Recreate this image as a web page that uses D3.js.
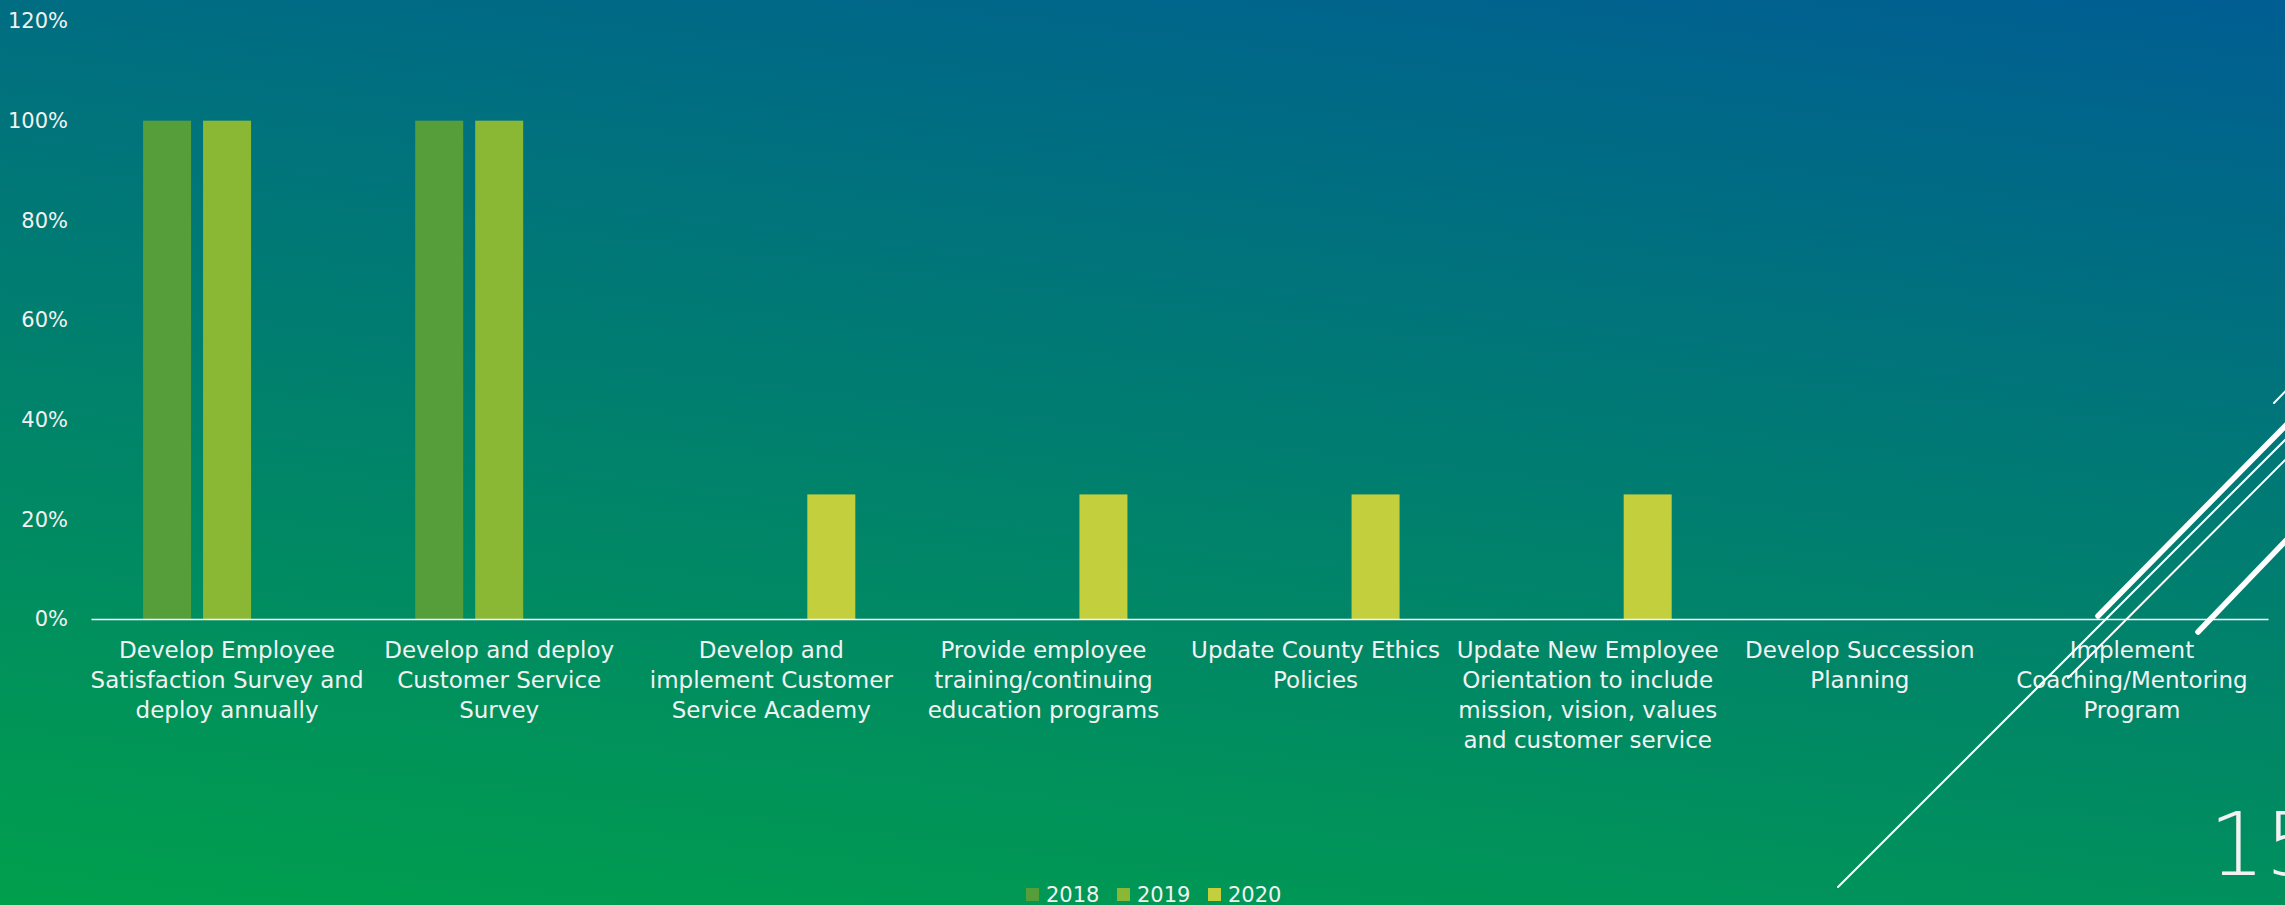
<!DOCTYPE html>
<html>
<head>
<meta charset="utf-8">
<script src="https://cdn.jsdelivr.net/npm/d3@7"></script>
<style>
  html, body { margin: 0; padding: 0; background: #00805f; }
  svg { display: block; }
  text { font-family: "DejaVu Sans", sans-serif; fill: #f2f2f2; }
</style>
</head>
<body>
<script>
// Project categories (line breaks as set on the slide)
const categories = [
  "Develop Employee\nSatisfaction Survey and\ndeploy annually",
  "Develop and deploy\nCustomer Service\nSurvey",
  "Develop and\nimplement Customer\nService Academy",
  "Provide employee\ntraining/continuing\neducation programs",
  "Update County Ethics\nPolicies",
  "Update New Employee\nOrientation to include\nmission, vision, values\nand customer service",
  "Develop Succession\nPlanning",
  "Implement\nCoaching/Mentoring\nProgram"
];

// Completion share per year
const seriesNames = ["2018", "2019", "2020"];
const values2018 = [1, 1, 0, 0, 0, 0, 0, 0];
const values2019 = [1, 1, 0, 0, 0, 0, 0, 0];
const values2020 = [0, 0, 0.25, 0.25, 0.25, 0.25, 0, 0];
const seriesValues = [values2018, values2019, values2020];
const seriesColors = ["#559e3a", "#8ab834", "#c3cf3c"];

const yTicks = [0, 0.2, 0.4, 0.6, 0.8, 1.0, 1.2];
const pageNumber = "15";

const W = 2285, H = 905;
const svg = d3.select("body").append("svg").attr("width", W).attr("height", H);

// Slide background
const defs = svg.append("defs");
const grad = defs.append("linearGradient")
  .attr("id", "bg").attr("gradientUnits", "userSpaceOnUse")
  .attr("x1", 2285).attr("y1", 0).attr("x2", 2140).attr("y2", 1190);
grad.append("stop").attr("offset", "0").attr("stop-color", "#005e93");
grad.append("stop").attr("offset", "0.45").attr("stop-color", "#007c72");
grad.append("stop").attr("offset", "1").attr("stop-color", "#00a14b");
svg.append("rect").attr("width", W).attr("height", H).attr("fill", "url(#bg)");

// Scales
const plot = { left: 91, right: 2268, top: 21, bottom: 619 };
const x0 = d3.scaleBand().domain(categories).range([plot.left, plot.right]).padding(0);
const groupWidth = 168;
const x1 = d3.scaleBand().domain(seriesNames).range([-groupWidth / 2, groupWidth / 2]).paddingInner(0.2).paddingOuter(0);
const y = d3.scaleLinear().domain([0, 1.2]).range([plot.bottom, plot.top]);

// Bars
const barData = [];
categories.forEach((c, i) => {
  seriesNames.forEach((s, j) => {
    const v = seriesValues[j][i];
    if (v > 0) barData.push({ c, s, v, color: seriesColors[j] });
  });
});
svg.append("g").selectAll("rect").data(barData).join("rect")
  .attr("x", d => x0(d.c) + x0.bandwidth() / 2 + x1(d.s))
  .attr("width", x1.bandwidth())
  .attr("y", d => y(d.v))
  .attr("height", d => y(0) - y(d.v))
  .attr("fill", d => d.color);

// Y axis labels
const yAxis = svg.append("g").attr("transform", `translate(${plot.left},0)`)
  .call(d3.axisLeft(y).tickValues(yTicks).tickFormat(d3.format(".0%")).tickSize(0).tickPadding(23));
yAxis.select(".domain").remove();
yAxis.selectAll("text")
  .attr("font-family", "DejaVu Sans").attr("font-size", 21).attr("fill", "#f2f2f2");

// X axis line and category labels
const xAxis = svg.append("g").attr("transform", `translate(0,${plot.bottom})`)
  .call(d3.axisBottom(x0).tickSize(0).tickSizeOuter(0).tickFormat(""));
xAxis.select(".domain").attr("stroke", "#ffffff").attr("stroke-width", 1.6);
xAxis.selectAll(".tick text").remove();

const labels = svg.append("g").selectAll("text").data(categories).join("text")
  .attr("text-anchor", "middle")
  .attr("font-size", 23)
  .attr("x", d => x0(d) + x0.bandwidth() / 2)
  .attr("y", 658);
labels.selectAll("tspan").data(d => d.split("\n")).join("tspan")
  .attr("x", function () { return d3.select(this.parentNode).attr("x"); })
  .attr("dy", (d, i) => i === 0 ? 0 : 30)
  .text(d => d);

// Legend
const legend = svg.append("g").attr("transform", "translate(1026,888)");
const item = legend.selectAll("g").data(seriesNames).join("g")
  .attr("transform", (d, i) => `translate(${i * 91},0)`);
item.append("rect").attr("width", 13).attr("height", 13)
  .attr("fill", (d, i) => seriesColors[i]);
item.append("text").attr("x", 20).attr("y", 13.5).attr("font-size", 21).text(d => d);

// Slide decoration: diagonal strokes
const strokes = [
  { x1: 1838, y1: 887, x2: 2300, y2: 425, w: 2 },
  { x1: 2068, y1: 678, x2: 2300, y2: 445, w: 2 },
  { x1: 2274, y1: 403, x2: 2300, y2: 376, w: 2 },
  { x1: 2098, y1: 616, x2: 2300, y2: 411, w: 5.5 },
  { x1: 2198, y1: 632, x2: 2300, y2: 526, w: 5.5 }
];
svg.append("g").selectAll("line").data(strokes).join("line")
  .attr("x1", d => d.x1).attr("y1", d => d.y1)
  .attr("x2", d => d.x2).attr("y2", d => d.y2)
  .attr("stroke", "#ffffff").attr("stroke-width", d => d.w)
  .attr("stroke-linecap", "round");

// Page number (runs off the slide edge)
svg.append("text").attr("x", 2209).attr("y", 875)
  .attr("font-size", 88).attr("font-weight", 200).attr("fill", "#ffffff")
  .text(pageNumber);
</script>
</body>
</html>
